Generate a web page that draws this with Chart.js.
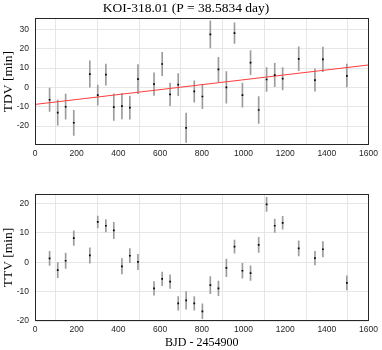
<!DOCTYPE html>
<html>
<head>
<meta charset="utf-8">
<script src="https://cdn.jsdelivr.net/npm/chart.js@4.4.1/dist/chart.umd.min.js"></script>
<style>
body { margin: 0; background: #fff; }
.panel { position: absolute; left: 0; width: 382px; height: 175px; }
</style>
</head>
<body>
<div class="panel" style="top:0"><canvas id="tdvChart" width="382" height="175"></canvas></div>
<div class="panel" style="top:175px"><canvas id="ttvChart" width="382" height="175"></canvas></div>
<script>
// transit epochs (BJD - 2454900)
var epochs = [70, 109, 147, 186, 263, 301, 340, 378, 417, 455, 494, 571, 610, 648, 687, 725,
              764, 803, 841, 880, 918, 957, 995, 1034, 1073, 1111, 1150, 1188, 1265, 1343, 1381, 1496];
var tdv = [-6.4, -13.1, -10, -18.3, 6.9, -4, 6.6, -10.2, -9.7, -10.5, 4.3, 1.7, 12.1, -3.6, 1.4, -20.9,
           -2.1, -4.7, 27.4, 9.3, 0, 28.1, -4, 12.8, -11.7, 4.1, 6.4, 4.5, 14.8, 3.8, 14.5, 6.0];
var tdvErr = [6, 6.5, 6.5, 6.5, 6.8, 5.2, 5.4, 6.9, 6.6, 6, 7.5, 5.8, 6, 5.8, 5.7, 7.6,
              5.5, 6.3, 7, 6.3, 8.2, 5.3, 6.2, 6.2, 6.9, 6.2, 6, 5.8, 6.2, 5.8, 6.4, 6];
var ttv = [1.3, -2.7, 0.5, 8.2, 2.3, 13.7, 12.4, 10.8, -1.4, 2.2, 0.1, -8.9, -5.7, -6.6, -14, -13,
           -14, -16.7, -7.8, -8.9, -1.9, 5.3, -2.9, -3.7, 5.9, 19.7, 12.4, 13.4, 4.7, 1.4, 4.4, -7.0];
var ttvErr = [2.4, 2.6, 2.6, 2.5, 2.6, 2, 2.1, 2.8, 2.6, 2.4, 2.6, 2.3, 2.3, 2.3, 2.3, 3,
              2.3, 2.5, 2.9, 2.5, 3, 2.2, 2.5, 2.5, 2.6, 2.4, 2.3, 2.2, 2.6, 2.3, 2.6, 2.4];
// linear fit to TDV
var trendX = [0, 1600];
var trendY = [-8.8, 11.6];

var tickFont = { family: 'Liberation Sans', size: 8.5 };
var labelFont = { family: 'Liberation Serif', size: 12, weight: 'normal' };

// frame round the plot area, like a matlab axes box
var boxPlugin = {
    id: 'box',
    afterDraw: function(chart) {
        var a = chart.chartArea, c = chart.ctx;
        c.save();
        c.strokeStyle = '#262626';
        c.lineWidth = 1;
        c.strokeRect(Math.round(a.left) + 0.5, Math.round(a.top) + 0.5,
                     Math.round(a.right - a.left) - 1, Math.round(a.bottom - a.top) - 1);
        c.restore();
    }
};

function points(ys) {
    return epochs.map(function(x, i) { return { x: x, y: ys[i] }; });
}
function bars(ys, errs) {
    return epochs.map(function(x, i) { return { x: x, y: [ys[i] - errs[i], ys[i] + errs[i]] }; });
}

function makePanel(id, ys, errs, yMin, yMax, yLabel, extra) {
    var datasets = [{
        type: 'bar',
        data: bars(ys, errs),
        backgroundColor: '#9c9c9c',
        barThickness: 1,
        order: 3
    }];
    if (extra.trend) {
        datasets.push({
            type: 'line',
            data: trendX.map(function(x, i) { return { x: x, y: trendY[i] }; }),
            borderColor: 'rgb(255, 60, 60)',
            borderWidth: 1,
            pointRadius: 0,
            order: 2
        });
    }
    datasets.push({
        type: 'scatter',
        data: points(ys),
        backgroundColor: '#000',
        borderWidth: 0,
        pointStyle: 'rect',
        pointRadius: 1.2,
        order: 1
    });

    return new Chart(document.getElementById(id), {
        type: 'scatter',
        data: { datasets: datasets },
        plugins: [boxPlugin],
        options: {
            responsive: false,
            animation: false,
            layout: { padding: { left: 0, right: 10, top: extra.padTop, bottom: 0 } },
            plugins: {
                legend: { display: false },
                tooltip: { enabled: false },
                title: {
                    display: !!extra.title,
                    text: extra.title || '',
                    color: '#000',
                    font: { family: 'Liberation Serif', size: 13.5, weight: 'normal' },
                    padding: { top: 0, bottom: 2 }
                }
            },
            scales: {
                x: {
                    type: 'linear',
                    min: 0,
                    max: 1600,
                    offset: false,
                    grid: { color: '#e6e6e6', drawTicks: false },
                    border: { display: false },
                    ticks: {
                        stepSize: 200, font: tickFont, color: '#262626', padding: 4, maxRotation: 0,
                        callback: function(v) { return String(v); }
                    },
                    title: {
                        display: !!extra.xLabel,
                        text: extra.xLabel || '',
                        color: '#000',
                        font: labelFont,
                        padding: 0
                    },
                    afterFit: function(s) { s.height = extra.xHeight; }
                },
                y: {
                    min: yMin,
                    max: yMax,
                    grid: { color: '#e6e6e6', drawTicks: false },
                    border: { display: false },
                    ticks: { stepSize: 10, includeBounds: false, font: tickFont, color: '#262626', padding: 6 },
                    title: {
                        display: true,
                        text: yLabel,
                        color: '#000',
                        font: { family: 'Liberation Serif', size: 13.5, weight: 'normal' },
                        padding: 0
                    },
                    afterFit: function(s) { s.width = 35; }
                }
            }
        }
    });
}

makePanel('tdvChart', tdv, tdvErr, -29.8, 35.8, 'TDV [min]',
          { trend: true, title: 'KOI-318.01 (P = 38.5834 day)', padTop: 0, xHeight: 30 });
makePanel('ttvChart', ttv, ttvErr, -20, 23.2, 'TTV [min]',
          { trend: false, padTop: 19, xHeight: 29, xLabel: 'BJD - 2454900' });
</script>
</body>
</html>
